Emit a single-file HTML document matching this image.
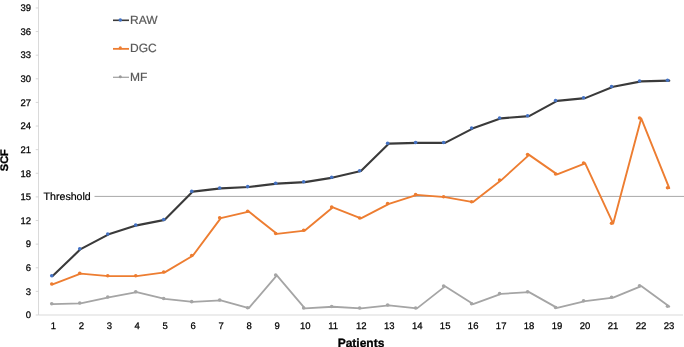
<!DOCTYPE html><html><head><meta charset="utf-8"><title>SCF chart</title><style>html,body{margin:0;padding:0;background:#fff}svg{display:block}text{font-family:"Liberation Sans",Arial,sans-serif;text-rendering:geometricPrecision}</style></head><body>
<svg width="684" height="347" viewBox="0 0 684 347">
<rect width="684" height="347" fill="#fff"/>
<g stroke="#d9d9d9" stroke-width="1" fill="none">
<line x1="38.55" y1="0" x2="38.55" y2="315.0"/>
<line x1="38.55" y1="315.0" x2="683" y2="315.0"/>
<line x1="35.75" y1="315.00" x2="38.55" y2="315.00" stroke="#d2d2d2" stroke-width="0.9"/>
<line x1="35.75" y1="291.38" x2="38.55" y2="291.38" stroke="#d2d2d2" stroke-width="0.9"/>
<line x1="35.75" y1="267.76" x2="38.55" y2="267.76" stroke="#d2d2d2" stroke-width="0.9"/>
<line x1="35.75" y1="244.14" x2="38.55" y2="244.14" stroke="#d2d2d2" stroke-width="0.9"/>
<line x1="35.75" y1="220.52" x2="38.55" y2="220.52" stroke="#d2d2d2" stroke-width="0.9"/>
<line x1="35.75" y1="196.90" x2="38.55" y2="196.90" stroke="#d2d2d2" stroke-width="0.9"/>
<line x1="35.75" y1="173.28" x2="38.55" y2="173.28" stroke="#d2d2d2" stroke-width="0.9"/>
<line x1="35.75" y1="149.66" x2="38.55" y2="149.66" stroke="#d2d2d2" stroke-width="0.9"/>
<line x1="35.75" y1="126.04" x2="38.55" y2="126.04" stroke="#d2d2d2" stroke-width="0.9"/>
<line x1="35.75" y1="102.42" x2="38.55" y2="102.42" stroke="#d2d2d2" stroke-width="0.9"/>
<line x1="35.75" y1="78.80" x2="38.55" y2="78.80" stroke="#d2d2d2" stroke-width="0.9"/>
<line x1="35.75" y1="55.18" x2="38.55" y2="55.18" stroke="#d2d2d2" stroke-width="0.9"/>
<line x1="35.75" y1="31.56" x2="38.55" y2="31.56" stroke="#d2d2d2" stroke-width="0.9"/>
<line x1="35.75" y1="7.94" x2="38.55" y2="7.94" stroke="#d2d2d2" stroke-width="0.9"/>
</g>
<g font-size="9.5" fill="#000" stroke="#000" stroke-width="0.25" text-anchor="end">
<text x="31" y="318.30">0</text>
<text x="31" y="294.68">3</text>
<text x="31" y="271.06">6</text>
<text x="31" y="247.44">9</text>
<text x="31" y="223.82">12</text>
<text x="31" y="200.20">15</text>
<text x="31" y="176.58">18</text>
<text x="31" y="152.96">21</text>
<text x="31" y="129.34">24</text>
<text x="31" y="105.72">27</text>
<text x="31" y="82.10">30</text>
<text x="31" y="58.48">33</text>
<text x="31" y="34.86">36</text>
<text x="31" y="11.24">39</text>
</g>
<g font-size="9.5" fill="#000" stroke="#000" stroke-width="0.25" text-anchor="middle">
<text x="53.30" y="328.8">1</text>
<text x="81.29" y="328.8">2</text>
<text x="109.28" y="328.8">3</text>
<text x="137.27" y="328.8">4</text>
<text x="165.26" y="328.8">5</text>
<text x="193.25" y="328.8">6</text>
<text x="221.24" y="328.8">7</text>
<text x="249.23" y="328.8">8</text>
<text x="277.22" y="328.8">9</text>
<text x="305.21" y="328.8">10</text>
<text x="333.20" y="328.8">11</text>
<text x="361.19" y="328.8">12</text>
<text x="389.18" y="328.8">13</text>
<text x="417.17" y="328.8">14</text>
<text x="445.16" y="328.8">15</text>
<text x="473.15" y="328.8">16</text>
<text x="501.14" y="328.8">17</text>
<text x="529.13" y="328.8">18</text>
<text x="557.12" y="328.8">19</text>
<text x="585.11" y="328.8">20</text>
<text x="613.10" y="328.8">21</text>
<text x="641.09" y="328.8">22</text>
<text x="669.08" y="328.8">23</text>
</g>
<line x1="94.5" y1="196.4" x2="684" y2="196.4" stroke="#a8a8a8" stroke-width="1"/>
<rect x="42" y="189" width="50" height="14" fill="#fff"/>
<text x="43.6" y="200" font-size="10.6" fill="#000" stroke="#000" stroke-width="0.2">Threshold</text>
<polyline fill="none" stroke="#a5a5a5" stroke-width="1.8" stroke-linejoin="round" stroke-linecap="round" points="52.60,304.10 80.63,303.35 108.66,297.35 136.69,292.10 164.72,298.85 192.75,301.95 220.78,300.35 248.81,308.10 276.84,275.35 304.87,308.35 332.90,306.75 360.93,308.35 388.96,305.35 416.99,308.35 445.02,286.35 473.05,304.10 501.08,293.85 529.11,292.10 557.14,307.85 585.17,301.10 613.20,297.60 641.23,286.10 669.26,306.60"/>
<circle cx="51.75" cy="303.80" r="1.8" fill="#a5a5a5"/><circle cx="79.74" cy="303.05" r="1.8" fill="#a5a5a5"/><circle cx="107.73" cy="297.05" r="1.8" fill="#a5a5a5"/><circle cx="135.72" cy="291.80" r="1.8" fill="#a5a5a5"/><circle cx="163.71" cy="298.55" r="1.8" fill="#a5a5a5"/><circle cx="191.70" cy="301.65" r="1.8" fill="#a5a5a5"/><circle cx="219.69" cy="300.05" r="1.8" fill="#a5a5a5"/><circle cx="247.68" cy="307.80" r="1.8" fill="#a5a5a5"/><circle cx="275.67" cy="275.05" r="1.8" fill="#a5a5a5"/><circle cx="303.66" cy="308.05" r="1.8" fill="#a5a5a5"/><circle cx="331.65" cy="306.45" r="1.8" fill="#a5a5a5"/><circle cx="359.64" cy="308.05" r="1.8" fill="#a5a5a5"/><circle cx="387.63" cy="305.05" r="1.8" fill="#a5a5a5"/><circle cx="415.62" cy="308.05" r="1.8" fill="#a5a5a5"/><circle cx="443.61" cy="286.05" r="1.8" fill="#a5a5a5"/><circle cx="471.60" cy="303.80" r="1.8" fill="#a5a5a5"/><circle cx="499.59" cy="293.55" r="1.8" fill="#a5a5a5"/><circle cx="527.58" cy="291.80" r="1.8" fill="#a5a5a5"/><circle cx="555.57" cy="307.55" r="1.8" fill="#a5a5a5"/><circle cx="583.56" cy="300.80" r="1.8" fill="#a5a5a5"/><circle cx="611.55" cy="297.30" r="1.8" fill="#a5a5a5"/><circle cx="639.54" cy="285.80" r="1.8" fill="#a5a5a5"/><circle cx="667.53" cy="306.30" r="1.8" fill="#a5a5a5"/>
<polyline fill="none" stroke="#ed7d31" stroke-width="1.9" stroke-linejoin="round" stroke-linecap="round" points="52.60,284.35 80.63,273.60 108.66,276.10 136.69,276.10 164.72,272.35 192.75,255.75 220.78,218.10 248.81,211.60 276.84,233.85 304.87,230.60 332.90,207.35 360.93,218.35 388.96,203.85 416.99,194.85 445.02,197.10 473.05,202.10 501.08,180.35 529.11,154.85 557.14,174.35 585.17,163.35 613.20,223.60 641.23,118.35 669.26,188.10"/>
<circle cx="51.75" cy="284.05" r="1.8" fill="#ed7d31"/><circle cx="79.74" cy="273.30" r="1.8" fill="#ed7d31"/><circle cx="107.73" cy="275.80" r="1.8" fill="#ed7d31"/><circle cx="135.72" cy="275.80" r="1.8" fill="#ed7d31"/><circle cx="163.71" cy="272.05" r="1.8" fill="#ed7d31"/><circle cx="191.70" cy="255.45" r="1.8" fill="#ed7d31"/><circle cx="219.69" cy="217.80" r="1.8" fill="#ed7d31"/><circle cx="247.68" cy="211.30" r="1.8" fill="#ed7d31"/><circle cx="275.67" cy="233.55" r="1.8" fill="#ed7d31"/><circle cx="303.66" cy="230.30" r="1.8" fill="#ed7d31"/><circle cx="331.65" cy="207.05" r="1.8" fill="#ed7d31"/><circle cx="359.64" cy="218.05" r="1.8" fill="#ed7d31"/><circle cx="387.63" cy="203.55" r="1.8" fill="#ed7d31"/><circle cx="415.62" cy="194.55" r="1.8" fill="#ed7d31"/><circle cx="443.61" cy="196.80" r="1.8" fill="#ed7d31"/><circle cx="471.60" cy="201.80" r="1.8" fill="#ed7d31"/><circle cx="499.59" cy="180.05" r="1.8" fill="#ed7d31"/><circle cx="527.58" cy="154.55" r="1.8" fill="#ed7d31"/><circle cx="555.57" cy="174.05" r="1.8" fill="#ed7d31"/><circle cx="583.56" cy="163.05" r="1.8" fill="#ed7d31"/><circle cx="611.55" cy="223.30" r="1.8" fill="#ed7d31"/><circle cx="639.54" cy="118.05" r="1.8" fill="#ed7d31"/><circle cx="667.53" cy="187.80" r="1.8" fill="#ed7d31"/>
<polyline fill="none" stroke="#3a3a3a" stroke-width="2.1" stroke-linejoin="round" stroke-linecap="round" points="52.60,276.10 80.63,249.10 108.66,234.35 136.69,225.35 164.72,219.85 192.75,191.60 220.78,188.35 248.81,186.95 276.84,183.60 304.87,182.10 332.90,177.60 360.93,171.10 388.96,143.60 416.99,142.85 445.02,142.85 473.05,128.35 501.08,118.35 529.11,116.10 557.14,100.85 585.17,98.10 613.20,86.75 641.23,81.35 669.26,80.60"/>
<circle cx="51.75" cy="275.80" r="1.8" fill="#4472c4"/><circle cx="79.74" cy="248.80" r="1.8" fill="#4472c4"/><circle cx="107.73" cy="234.05" r="1.8" fill="#4472c4"/><circle cx="135.72" cy="225.05" r="1.8" fill="#4472c4"/><circle cx="163.71" cy="219.55" r="1.8" fill="#4472c4"/><circle cx="191.70" cy="191.30" r="1.8" fill="#4472c4"/><circle cx="219.69" cy="188.05" r="1.8" fill="#4472c4"/><circle cx="247.68" cy="186.65" r="1.8" fill="#4472c4"/><circle cx="275.67" cy="183.30" r="1.8" fill="#4472c4"/><circle cx="303.66" cy="181.80" r="1.8" fill="#4472c4"/><circle cx="331.65" cy="177.30" r="1.8" fill="#4472c4"/><circle cx="359.64" cy="170.80" r="1.8" fill="#4472c4"/><circle cx="387.63" cy="143.30" r="1.8" fill="#4472c4"/><circle cx="415.62" cy="142.55" r="1.8" fill="#4472c4"/><circle cx="443.61" cy="142.55" r="1.8" fill="#4472c4"/><circle cx="471.60" cy="128.05" r="1.8" fill="#4472c4"/><circle cx="499.59" cy="118.05" r="1.8" fill="#4472c4"/><circle cx="527.58" cy="115.80" r="1.8" fill="#4472c4"/><circle cx="555.57" cy="100.55" r="1.8" fill="#4472c4"/><circle cx="583.56" cy="97.80" r="1.8" fill="#4472c4"/><circle cx="611.55" cy="86.45" r="1.8" fill="#4472c4"/><circle cx="639.54" cy="81.05" r="1.8" fill="#4472c4"/><circle cx="667.53" cy="80.30" r="1.8" fill="#4472c4"/>
<line x1="113" y1="20.3" x2="129" y2="20.3" stroke="#3a3a3a" stroke-width="1.6"/>
<circle cx="120.3" cy="20.0" r="1.8" fill="#4472c4"/>
<text x="130" y="24.3" font-size="12" fill="#595959" stroke="#595959" stroke-width="0.2">RAW</text>
<line x1="113" y1="48.85" x2="129" y2="48.85" stroke="#ed7d31" stroke-width="1.8"/>
<circle cx="120.3" cy="47.9" r="1.6" fill="#ed7d31"/>
<text x="130" y="52.0" font-size="12" fill="#595959" stroke="#595959" stroke-width="0.2">DGC</text>
<line x1="113" y1="77.3" x2="129" y2="77.3" stroke="#a5a5a5" stroke-width="1.3"/>
<circle cx="120.3" cy="76.8" r="1.5" fill="#9a9a9a"/>
<text x="130" y="80.5" font-size="12" fill="#595959" stroke="#595959" stroke-width="0.2">MF</text>
<text x="361" y="347.0" font-size="12" font-weight="bold" text-anchor="middle" fill="#000" stroke="#000" stroke-width="0.3">Patients</text>
<text transform="translate(8.2,160.2) rotate(-90)" font-size="11" font-weight="bold" text-anchor="middle" fill="#000" stroke="#000" stroke-width="0.3">SCF</text>
</svg></body></html>
